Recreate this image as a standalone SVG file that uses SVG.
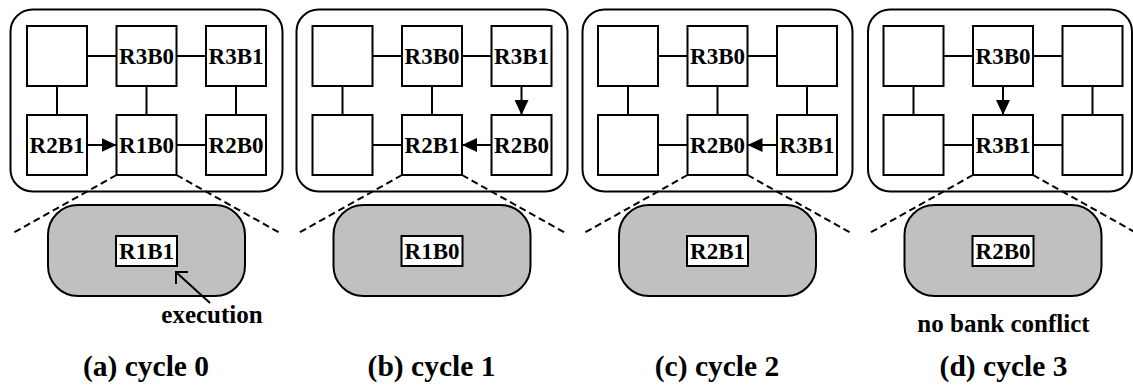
<svg xmlns="http://www.w3.org/2000/svg" width="1133" height="385" viewBox="0 0 1133 385">
<style>
.outer{fill:#fff;stroke:#000;stroke-width:2}
.box{fill:#fff;stroke:#000;stroke-width:2}
.ln{stroke:#000;stroke-width:2;fill:none}
.arr{stroke:#000;stroke-width:2;fill:none;marker-end:url(#ah)}
.dash{stroke:#000;stroke-width:2;fill:none;stroke-dasharray:7 4}
.exe{fill:#c0c0c0;stroke:#000;stroke-width:2}
text{font-family:'Liberation Serif','Times New Roman',Tinos,'DejaVu Serif',serif;font-weight:700;text-anchor:middle;fill:#000}
.t{font-size:23px}
.ann{font-size:25px}
.cap{font-size:29.5px}
</style>
<defs>
<marker id="ah" markerUnits="userSpaceOnUse" markerWidth="16" markerHeight="14" refX="15" refY="7" orient="auto">
<path d="M0,0 L15,7 L0,14 z" fill="#000"/>
</marker>
</defs>
<rect x="0" y="0" width="1133" height="385" fill="#fff"/>

<!-- Panel (a) -->
<g id="panel-a">
<rect class="outer" x="10.5" y="9.5" width="272" height="182" rx="22"/>
<g id="connectors-a">
<line class="dash" x1="116.5" y1="175" x2="13" y2="233"/>
<line class="dash" x1="176.5" y1="175" x2="280" y2="233"/>
<line class="ln" x1="87" y1="56" x2="116.5" y2="56"/>
<line class="ln" x1="176.5" y1="56" x2="206" y2="56"/>
<line class="ln" x1="57" y1="86" x2="57" y2="115"/>
<line class="ln" x1="146.5" y1="86" x2="146.5" y2="115"/>
<line class="ln" x1="236" y1="86" x2="236" y2="115"/>
<line class="arr" x1="87" y1="145" x2="116.5" y2="145"/>
<line class="ln" x1="176.5" y1="145" x2="206" y2="145"/>
</g>
<g id="a-n00"><rect class="box" x="27" y="26" width="60" height="60"/></g>
<g id="a-n01"><rect class="box" x="116.5" y="26" width="60" height="60"/><text class="t" x="146.5" y="63.5">R3B0</text></g>
<g id="a-n02"><rect class="box" x="206" y="26" width="60" height="60"/><text class="t" x="236" y="63.5">R3B1</text></g>
<g id="a-n10"><rect class="box" x="27" y="115" width="60" height="60"/><text class="t" x="57" y="152.5">R2B1</text></g>
<g id="a-n11"><rect class="box" x="116.5" y="115" width="60" height="60"/><text class="t" x="146.5" y="152.5">R1B0</text></g>
<g id="a-n12"><rect class="box" x="206" y="115" width="60" height="60"/><text class="t" x="236" y="152.5">R2B0</text></g>
<g id="a-exec"><rect class="exe" x="48" y="205" width="197" height="91" rx="30"/><rect class="box" x="116" y="236" width="61" height="30"/><text class="t" x="146.5" y="258.5">R1B1</text></g>
<g id="connector-exec">
<line class="ln" x1="210" y1="303" x2="177" y2="273"/>
<polyline class="ln" points="176,284 176,272 188,272"/>
</g>
<text class="ann" x="212" y="323">execution</text>
<text class="cap" x="146" y="376">(a) cycle 0</text>
</g>

<!-- Panel (b) -->
<g id="panel-b" transform="translate(285.5,0)">
<rect class="outer" x="11" y="9.5" width="271" height="182" rx="22"/>
<g id="connectors-b">
<line class="dash" x1="116.5" y1="175" x2="13" y2="233"/>
<line class="dash" x1="176.5" y1="175" x2="280" y2="233"/>
<line class="ln" x1="87" y1="56" x2="116.5" y2="56"/>
<line class="ln" x1="176.5" y1="56" x2="206" y2="56"/>
<line class="ln" x1="57" y1="86" x2="57" y2="115"/>
<line class="ln" x1="146.5" y1="86" x2="146.5" y2="115"/>
<line class="arr" x1="236" y1="86" x2="236" y2="115"/>
<line class="ln" x1="87" y1="145" x2="116.5" y2="145"/>
<line class="arr" x1="206" y1="145" x2="176.5" y2="145"/>
</g>
<g id="b-n00"><rect class="box" x="27" y="26" width="60" height="60"/></g>
<g id="b-n01"><rect class="box" x="116.5" y="26" width="60" height="60"/><text class="t" x="146.5" y="63.5">R3B0</text></g>
<g id="b-n02"><rect class="box" x="206" y="26" width="60" height="60"/><text class="t" x="236" y="63.5">R3B1</text></g>
<g id="b-n10"><rect class="box" x="27" y="115" width="60" height="60"/></g>
<g id="b-n11"><rect class="box" x="116.5" y="115" width="60" height="60"/><text class="t" x="146.5" y="152.5">R2B1</text></g>
<g id="b-n12"><rect class="box" x="206" y="115" width="60" height="60"/><text class="t" x="236" y="152.5">R2B0</text></g>
<g id="b-exec"><rect class="exe" x="48" y="205" width="197" height="91" rx="30"/><rect class="box" x="116" y="236" width="61" height="30"/><text class="t" x="146.5" y="258.5">R1B0</text></g>
<text class="cap" x="146" y="376">(b) cycle 1</text>
</g>

<!-- Panel (c) -->
<g id="panel-c" transform="translate(571,0)">
<rect class="outer" x="11.5" y="9.5" width="270" height="182" rx="22"/>
<g id="connectors-c">
<line class="dash" x1="116.5" y1="175" x2="13" y2="233"/>
<line class="dash" x1="176.5" y1="175" x2="280" y2="233"/>
<line class="ln" x1="87" y1="56" x2="116.5" y2="56"/>
<line class="ln" x1="176.5" y1="56" x2="206" y2="56"/>
<line class="ln" x1="57" y1="86" x2="57" y2="115"/>
<line class="ln" x1="146.5" y1="86" x2="146.5" y2="115"/>
<line class="ln" x1="236" y1="86" x2="236" y2="115"/>
<line class="ln" x1="87" y1="145" x2="116.5" y2="145"/>
<line class="arr" x1="206" y1="145" x2="176.5" y2="145"/>
</g>
<g id="c-n00"><rect class="box" x="27" y="26" width="60" height="60"/></g>
<g id="c-n01"><rect class="box" x="116.5" y="26" width="60" height="60"/><text class="t" x="146.5" y="63.5">R3B0</text></g>
<g id="c-n02"><rect class="box" x="206" y="26" width="60" height="60"/></g>
<g id="c-n10"><rect class="box" x="27" y="115" width="60" height="60"/></g>
<g id="c-n11"><rect class="box" x="116.5" y="115" width="60" height="60"/><text class="t" x="146.5" y="152.5">R2B0</text></g>
<g id="c-n12"><rect class="box" x="206" y="115" width="60" height="60"/><text class="t" x="236" y="152.5">R3B1</text></g>
<g id="c-exec"><rect class="exe" x="48" y="205" width="197" height="91" rx="30"/><rect class="box" x="116" y="236" width="61" height="30"/><text class="t" x="146.5" y="258.5">R2B1</text></g>
<text class="cap" x="146" y="376">(c) cycle 2</text>
</g>

<!-- Panel (d) -->
<g id="panel-d" transform="translate(856.5,0)">
<rect class="outer" x="11.5" y="9.5" width="264" height="182" rx="22"/>
<g id="connectors-d">
<line class="dash" x1="116.5" y1="175" x2="13" y2="233"/>
<line class="dash" x1="176.5" y1="175" x2="280" y2="233"/>
<line class="ln" x1="87" y1="56" x2="116.5" y2="56"/>
<line class="ln" x1="176.5" y1="56" x2="206" y2="56"/>
<line class="ln" x1="57" y1="86" x2="57" y2="115"/>
<line class="arr" x1="146.5" y1="86" x2="146.5" y2="115"/>
<line class="ln" x1="236" y1="86" x2="236" y2="115"/>
<line class="ln" x1="87" y1="145" x2="116.5" y2="145"/>
<line class="ln" x1="176.5" y1="145" x2="206" y2="145"/>
</g>
<g id="d-n00"><rect class="box" x="27" y="26" width="60" height="60"/></g>
<g id="d-n01"><rect class="box" x="116.5" y="26" width="60" height="60"/><text class="t" x="146.5" y="63.5">R3B0</text></g>
<g id="d-n02"><rect class="box" x="206" y="26" width="60" height="60"/></g>
<g id="d-n10"><rect class="box" x="27" y="115" width="60" height="60"/></g>
<g id="d-n11"><rect class="box" x="116.5" y="115" width="60" height="60"/><text class="t" x="146.5" y="152.5">R3B1</text></g>
<g id="d-n12"><rect class="box" x="206" y="115" width="60" height="60"/></g>
<g id="d-exec"><rect class="exe" x="48" y="205" width="197" height="91" rx="30"/><rect class="box" x="116" y="236" width="61" height="30"/><text class="t" x="146.5" y="258.5">R2B0</text></g>
<text class="ann" x="147" y="332">no bank conflict</text>
<text class="cap" x="147" y="376">(d) cycle 3</text>
</g>
</svg>
